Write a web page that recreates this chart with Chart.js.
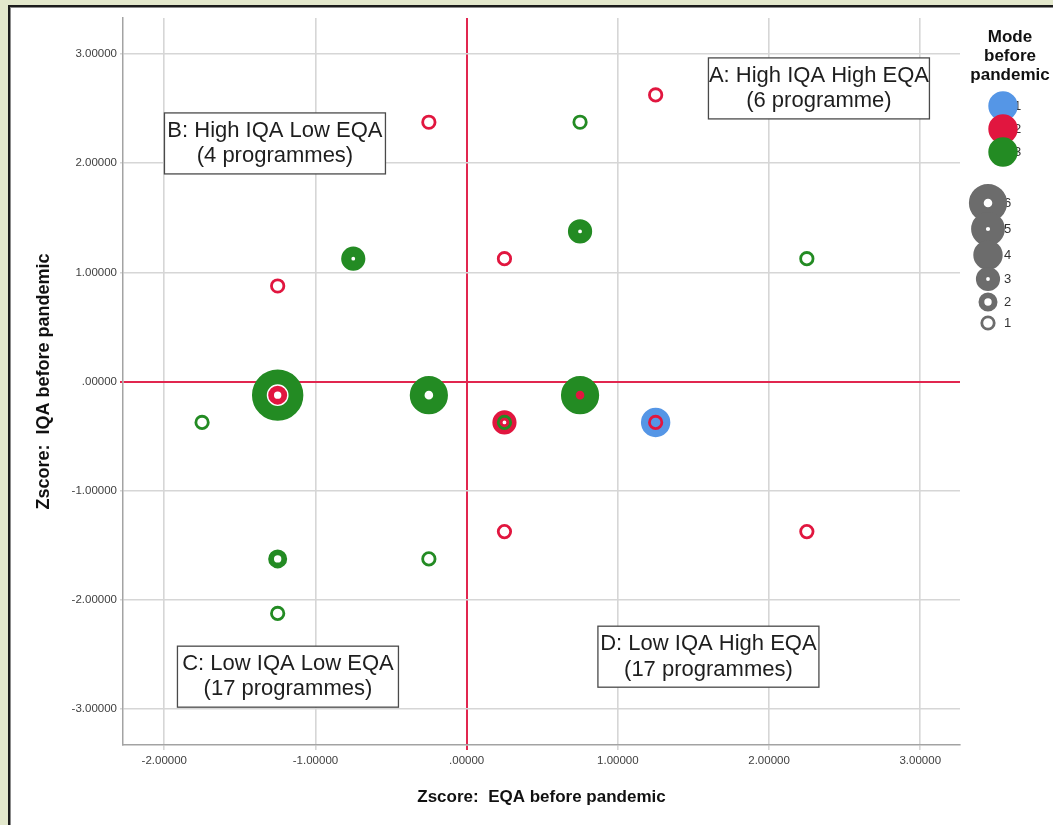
<!DOCTYPE html>
<html>
<head>
<meta charset="utf-8">
<title>Zscore: EQA vs IQA before pandemic</title>
<script src="https://cdn.jsdelivr.net/npm/chart.js@4.4.1/dist/chart.umd.min.js"></script>
<style>
  html, body { margin: 0; padding: 0; }
  body { width: 1053px; height: 825px; overflow: hidden; background: #e3e8cc; position: relative; }
  #frame { position: absolute; left: 8px; top: 5px; right: -10px; bottom: -10px; background: #fff;
           border-left: 2px solid #1c1c1c; border-top: 2px solid #1c1c1c; box-shadow: inset 1px 1px 0 #8c8c8c; }
  #chart { position: absolute; left: 0; top: 0; }
</style>
</head>
<body>
<div id="frame"></div>
<canvas id="chart" width="1053" height="825"></canvas>
<script>
// one entry per marker: EQA z-score (x), IQA z-score (y), mode before pandemic, number of programmes
const eqaZ   = [1.25, -0.25, 0.75, 0.75, 0.25, -0.75, 2.25, -1.25, -1.25, -1.25, -0.25, 0.75, 0.75, 0.25, 0.25, 1.25, 1.25, -1.75, 0.25, 2.25, -1.25, -0.25, -1.25];
const iqaZ   = [2.625, 2.375, 2.375, 1.375, 1.125, 1.125, 1.125, 0.875, -0.125, -0.125, -0.125, -0.125, -0.125, -0.375, -0.375, -0.375, -0.375, -0.375, -1.375, -1.375, -1.625, -1.625, -2.125];
const modes  = [2, 2, 3, 3, 2, 3, 3, 2, 3, 2, 3, 3, 2, 2, 3, 1, 2, 3, 2, 2, 3, 3, 3];
const counts = [1, 1, 1, 3, 1, 3, 1, 1, 9, 2, 6, 6, 4, 3, 1, 4, 1, 1, 1, 1, 2, 1, 1];

const modeNames = ['1', '2', '3'];
const sizeLegend = [6, 5, 4, 3, 2, 1];

const xTicks = [-2, -1, 0, 1, 2, 3];
const xTickLabels = ['-2.00000', '-1.00000', '.00000', '1.00000', '2.00000', '3.00000'];
const yTicks = [-3, -2, -1, 0, 1, 2, 3];
const yTickLabels = ['-3.00000', '-2.00000', '-1.00000', '.00000', '1.00000', '2.00000', '3.00000'];

const noteLines = [
    ['A: High IQA High EQA', '(6 programme)'],
    ['B: High IQA Low EQA', '(4 programmes)'],
    ['C: Low IQA Low EQA', '(17 programmes)'],
    ['D: Low IQA High EQA', '(17 programmes)']
];

// styling
const FONT = "'Liberation Sans', Arial, sans-serif";
const modeColors = { 1: '#5596e6', 2: '#e1163f', 3: '#238b23' };
const refColor = '#e1264f';
const gridColor = '#d6d6d6';
const sizeColor = '#6c6c6c';
// where the quadrant boxes sit, in axis units
const notePos = [{ x: 2.33, y: 2.685 }, { x: -1.268, y: 2.181 }, { x: -1.182, y: -2.704 }, { x: 1.599, y: -2.521 }];

Chart.defaults.font.family = FONT;

// SPSS style marker: a small circle whose stroke gets fatter with the count,
// the centre hole closes around 4 and opens again after
function ring(n) {
    const r0 = Math.min(7.4, 5.8 + 0.4 * n);
    const halfW = Math.max(1.4, 2.2 * n - 1.5);
    const outer = r0 + halfW;
    const hole = Math.abs(r0 - halfW);
    return { radius: (outer + hole) / 2, width: outer - hole };
}

function drawRing(ctx, x, y, n, color) {
    const g = ring(n);
    ctx.beginPath();
    ctx.arc(x, y, g.radius, 0, Math.PI * 2);
    ctx.lineWidth = g.width;
    ctx.strokeStyle = color;
    ctx.stroke();
}

const points = eqaZ.map((x, i) => ({ x: x, y: iqaZ[i], n: counts[i], m: modes[i] }));

// green on top, then red, then blue
const datasets = [3, 2, 1].map((m, k) => ({
    label: modeNames[m - 1],
    data: points.filter(p => p.m === m),
    borderColor: modeColors[m],
    backgroundColor: 'rgba(0,0,0,0)',
    pointRadius: c => ring(c.raw.n).radius,
    pointBorderWidth: c => ring(c.raw.n).width,
    order: k
}));

const quadrantNotes = {
    id: 'quadrantNotes',
    afterDatasetsDraw(chart) {
        const { ctx, scales: { x, y } } = chart;
        ctx.save();
        ctx.font = '22px ' + FONT;
        ctx.textAlign = 'center';
        ctx.textBaseline = 'middle';
        noteLines.forEach((lines, i) => {
            const cx = x.getPixelForValue(notePos[i].x);
            const cy = y.getPixelForValue(notePos[i].y);
            const w = 221, h = 61;
            ctx.fillStyle = '#fff';
            ctx.fillRect(cx - w / 2, cy - h / 2, w, h);
            ctx.strokeStyle = '#4a4a4a';
            ctx.lineWidth = 1.3;
            ctx.strokeRect(cx - w / 2, cy - h / 2, w, h);
            ctx.fillStyle = '#1e1e1e';
            lines.forEach((t, j) => ctx.fillText(t, cx, cy + (j - 0.5) * 25.5));
        });
        ctx.restore();
    }
};

const sideLegend = {
    id: 'sideLegend',
    afterDraw(chart) {
        const ctx = chart.ctx;
        ctx.save();
        ctx.fillStyle = '#111';
        ctx.textAlign = 'center';
        ctx.textBaseline = 'middle';
        ctx.font = 'bold 17px ' + FONT;
        ['Mode', 'before', 'pandemic'].forEach((t, i) => ctx.fillText(t, 1010, 37 + i * 19));

        ctx.font = '13px ' + FONT;
        ctx.textAlign = 'left';
        modeNames.forEach((name, i) => {
            const yy = 106 + i * 23;
            ctx.fillStyle = '#333';
            ctx.fillText(name, 1014, yy);
            drawRing(ctx, 1003, yy, 4, modeColors[i + 1]);
        });

        const sizeY = [203, 229, 255, 279, 302, 323];
        sizeLegend.forEach((n, i) => {
            ctx.fillStyle = '#333';
            ctx.fillText(String(n), 1004, sizeY[i]);
            drawRing(ctx, 988, sizeY[i], n, sizeColor);
        });
        ctx.restore();
    }
};

const isZero = c => c.tick && c.tick.value === 0;

new Chart(document.getElementById('chart'), {
    type: 'scatter',
    data: { datasets: datasets },
    options: {
        responsive: false,
        animation: false,
        events: [],
        layout: { autoPadding: false, padding: { left: 0, right: 93, top: 18, bottom: 0 } },
        plugins: { legend: { display: false }, tooltip: { enabled: false } },
        scales: {
            x: {
                type: 'linear',
                min: -2.273,
                max: 3.263,
                afterBuildTicks: s => { s.ticks = xTicks.map(v => ({ value: v })); },
                afterFit: s => { s.height = 80; },
                border: { color: '#a3a3a3', width: 1.5 },
                grid: {
                    color: c => isZero(c) ? refColor : gridColor,
                    lineWidth: c => isZero(c) ? 2 : 1.6,
                    tickLength: 5
                },
                ticks: {
                    padding: 4,
                    color: '#404040',
                    font: { size: 11.5 },
                    callback: (v, i) => xTickLabels[i]
                },
                title: {
                    display: true,
                    text: 'Zscore:  EQA before pandemic',
                    color: '#111',
                    font: { size: 17, weight: 'bold' },
                    padding: { top: 0, bottom: 17.8 }
                }
            },
            y: {
                type: 'linear',
                min: -3.33,
                max: 3.33,
                afterBuildTicks: s => { s.ticks = yTicks.map(v => ({ value: v })); },
                afterFit: s => { s.width = 123; },
                border: { color: '#a3a3a3', width: 1.5 },
                grid: {
                    color: c => isZero(c) ? refColor : gridColor,
                    lineWidth: c => isZero(c) ? 2 : 1.6,
                    tickLength: 3
                },
                ticks: {
                    padding: 3,
                    color: '#404040',
                    font: { size: 11.5 },
                    callback: (v, i) => yTickLabels[i]
                },
                title: {
                    display: true,
                    text: 'Zscore:  IQA before pandemic',
                    color: '#111',
                    font: { size: 18, weight: 'bold' },
                    padding: { top: 33.2, bottom: 0 }
                }
            }
        }
    },
    plugins: [quadrantNotes, sideLegend]
});
</script>
</body>
</html>
